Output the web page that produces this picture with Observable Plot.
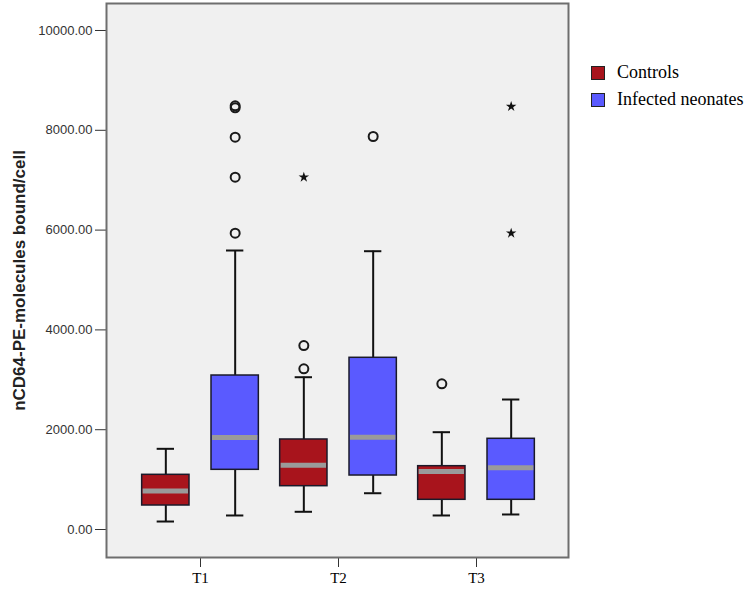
<!DOCTYPE html>
<html>
<head>
<meta charset="utf-8">
<script src="https://cdn.jsdelivr.net/npm/d3@7"></script>
<script src="https://cdn.jsdelivr.net/npm/@observablehq/plot@0.6"></script>
<style>
  body { margin: 0; background: #ffffff; }
  #wrap { position: relative; width: 750px; height: 590px; }
  #legend { position: absolute; left: 591px; top: 59px; font-family: "Liberation Serif", "Times New Roman", serif; font-size: 18px; color: #000; }
  #legend .item { display: flex; align-items: center; height: 27px; }
  #legend .sw { width: 14px; height: 14px; border: 1.5px solid #222; box-sizing: border-box; margin-right: 12px; }
  svg [aria-label^="x-axis"] text { font-family: "Liberation Serif", "Times New Roman", serif; font-size: 15px; fill: #000; }
  svg [aria-label^="y-axis"] text { font-family: "Liberation Sans", Arial, sans-serif; font-size: 13px; fill: #333; }
</style>
</head>
<body>
<div id="wrap"><div id="legend"></div></div>
<script>
// ---- data ----
const times = ["T1", "T2", "T3"];
const groups = ["Controls", "Infected neonates"];
const groupColors = ["#a8141c", "#5a5aff"];

const ctrlLow    = [160, 355, 281];
const ctrlQ1     = [481, 868, 595];
const ctrlMedian = [770, 1289, 1162];
const ctrlQ3     = [1096, 1804, 1269];
const ctrlHigh   = [1617, 3052, 1950];

const infLow     = [281, 727, 301];
const infQ1      = [1196, 1082, 595];
const infMedian  = [1844, 1850, 1237];
const infQ3      = [3086, 3441, 1818];
const infHigh    = [5591, 5577, 2605];

// outliers: [time, group, value]
const circleOutliers = [
  ["T1", "Infected neonates", 8450], ["T1", "Infected neonates", 8490],
  ["T1", "Infected neonates", 7862], ["T1", "Infected neonates", 7060],
  ["T1", "Infected neonates", 5938],
  ["T2", "Controls", 3687], ["T2", "Controls", 3220],
  ["T2", "Infected neonates", 7876],
  ["T3", "Controls", 2920]
];
const extremeOutliers = [
  ["T2", "Controls", 7060],
  ["T3", "Infected neonates", 8477], ["T3", "Infected neonates", 5938]
];

const yTicks = [0, 2000, 4000, 6000, 8000, 10000];
const yLabel = "nCD64-PE-molecules bound/cell";

// ---- build tables ----
const stats = [
  {group: groups[0], low: ctrlLow, q1: ctrlQ1, med: ctrlMedian, q3: ctrlQ3, high: ctrlHigh},
  {group: groups[1], low: infLow, q1: infQ1, med: infMedian, q3: infQ3, high: infHigh}
];

// layout constants (style)
const xRange = [129.5, 545.5];
const half = (xRange[1] - xRange[0]) / times.length / 2;  // half band
const offset = 34.67;  // group offset from band centre
const boxW = 48, capW = 18;

const marks = [Plot.frame({fill: "#f0f0f0", stroke: "#6e6e6e", strokeWidth: 2})];

stats.forEach((s, gi) => {
  const c = gi === 0 ? -offset : offset;
  const rows = times.map((t, i) => ({time: t, low: s.low[i], q1: s.q1[i], med: s.med[i], q3: s.q3[i], high: s.high[i]}));
  const boxL = half + c - boxW / 2, boxR = half - c - boxW / 2;
  const capL = half + c - capW / 2, capR = half - c - capW / 2;
  marks.push(
    Plot.ruleX(rows, {x: "time", y1: "low", y2: "high", dx: c, stroke: "#111", strokeWidth: 2}),
    Plot.barY(rows, {x: "time", y1: "q1", y2: "q3", fill: groupColors[gi], stroke: "#1a1a2a", strokeWidth: 1.5, insetLeft: boxL, insetRight: boxR}),
    Plot.tickY(rows, {x: "time", y: "med", stroke: "#9a9a9a", strokeWidth: 5, insetLeft: boxL + 1, insetRight: boxR + 1}),
    Plot.tickY(rows, {x: "time", y: "low", stroke: "#111", strokeWidth: 2, insetLeft: capL, insetRight: capR}),
    Plot.tickY(rows, {x: "time", y: "high", stroke: "#111", strokeWidth: 2, insetLeft: capL, insetRight: capR}),
    Plot.dot(circleOutliers.filter(d => d[1] === s.group), {x: d => d[0], y: d => d[2], dx: c, r: 4.5, stroke: "#1a1a1a", strokeWidth: 2, fill: "none"}),
    Plot.dot(extremeOutliers.filter(d => d[1] === s.group), {x: d => d[0], y: d => d[2], dx: c, r: 3.3, symbol: "star", fill: "#111", stroke: "none"})
  );
});

marks.push(Plot.text([yLabel], {frameAnchor: "left", dx: -87, rotate: -90, textAnchor: "middle", text: d => d, fontSize: 17, fontWeight: "bold", fontFamily: "Liberation Sans, Arial, sans-serif", fill: "#222"}));

const chart = Plot.plot({
  width: 750,
  height: 590,
  marginLeft: 106,
  marginRight: 182,
  marginTop: 3,
  marginBottom: 33,
  style: {background: "transparent", fontFamily: "Liberation Sans, Arial, sans-serif", fontSize: "13px", color: "#333"},
  x: {type: "band", domain: times, range: xRange, padding: 0, tickSize: 10, tickPadding: 5, label: null},
  y: {domain: [-561, 10541], ticks: yTicks, tickFormat: d3.format(".2f"), tickSize: 11, tickPadding: 3, label: null},
  marks
});
document.getElementById("wrap").appendChild(chart);
chart.style.position = "absolute";
chart.style.left = "0px";
chart.style.top = "0px";

// legend
const legend = document.getElementById("legend");
groups.forEach((g, i) => {
  const item = document.createElement("div");
  item.className = "item";
  const sw = document.createElement("div");
  sw.className = "sw";
  sw.style.background = groupColors[i];
  const lab = document.createElement("span");
  lab.textContent = g;
  item.appendChild(sw); item.appendChild(lab);
  legend.appendChild(item);
});
</script>
</body>
</html>
